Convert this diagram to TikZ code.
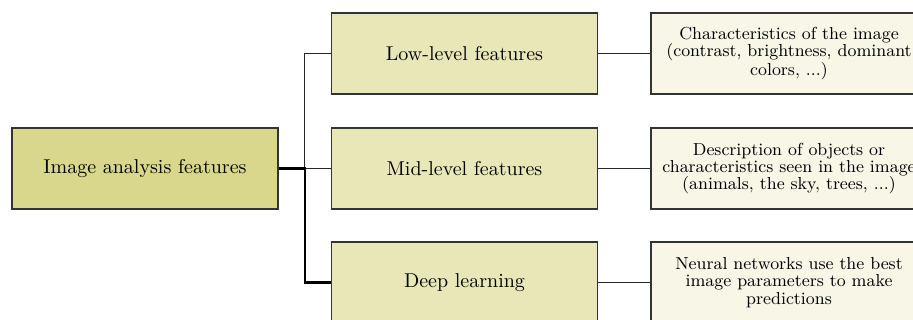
\documentclass[tikz,border=0pt]{standalone}
\usetikzlibrary{positioning}
\definecolor{rootfill}{RGB}{217,215,140}
\definecolor{midfill}{RGB}{232,231,184}
\definecolor{notefill}{RGB}{248,246,231}

\begin{document}
\begin{tikzpicture}[x=0.5pt,y=-0.5pt,
  box/.style={draw=black!80,line width=0.6pt,inner sep=0pt,minimum width=133pt,minimum height=40.5pt,align=center},
  rootbox/.style={box,fill=rootfill},
  featbox/.style={box,fill=midfill},
  notebox/.style={box,fill=notefill,minimum width=138pt,font=\fontsize{8.7}{8.6}\selectfont},
  link/.style={draw=black!85,line width=0.6pt},
  mainlink/.style={draw=black,line width=1.1pt}]
\path[use as bounding box,clip] (0,0) rectangle (913,320);
% left column
\node[rootbox] (root) at (145,168.5) {Image analysis features};
% middle column
\node[featbox] (low) at (464.5,53.5) {Low-level features};
\node[featbox] (mid) at (464.5,168.5) {Mid-level features};
\node[featbox] (deep) at (464.5,282.5) {Deep learning};
% right column (runs past the edge)
\node[notebox] (lownote) at (789,53.5) {Characteristics of the image\\(contrast, brightness, dominant\\colors, ...)};
\node[notebox] (midnote) at (789,168.5) {Description of objects or\\characteristics seen in the image\\(animals, the sky, trees, ...)};
\node[notebox] (deepnote) at (789,282.5) {Neural networks use the best\\image parameters to make\\predictions};
% connectors
\draw[link] (root.east) ++(26,0) coordinate (fork) |- (low.west);
\draw[link] (fork) -- (mid.west);
\draw[mainlink] (root.east) -- (fork) |- (deep.west);
\draw[link] (low) -- (lownote);
\draw[link] (mid) -- (midnote);
\draw[link] (deep) -- (deepnote);
\end{tikzpicture}
\end{document}
